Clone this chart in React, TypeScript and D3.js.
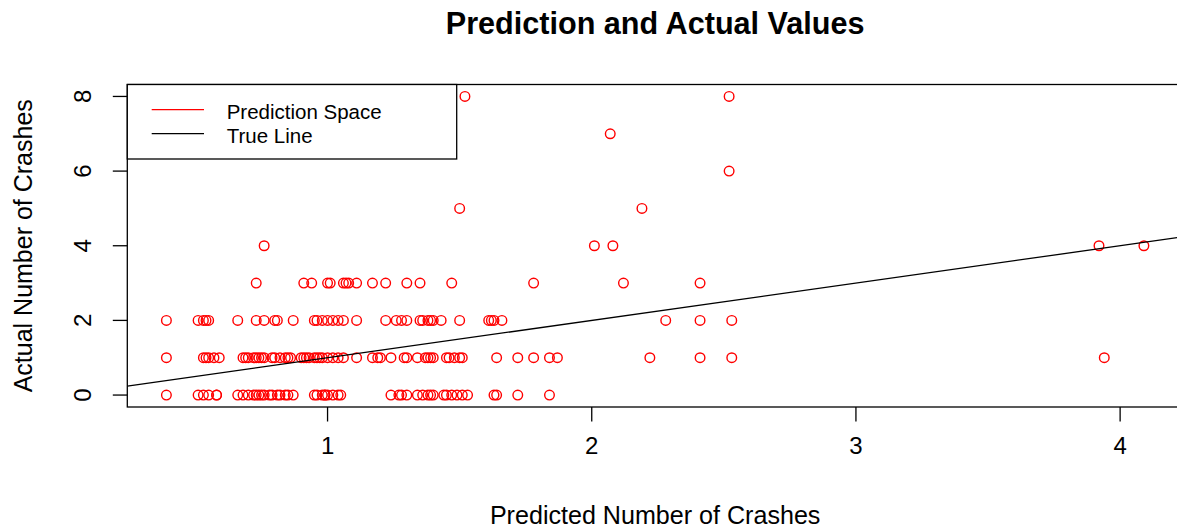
import React from "react";
import * as d3 from "d3";

// Predicted values (x) grouped by actual number of crashes (y)
const predActual0 = [0.39, 0.51, 0.53, 0.55, 0.58, 0.58, 0.66, 0.68, 0.70, 0.72, 0.73, 0.74, 0.75, 0.76, 0.78, 0.79, 0.81, 0.82, 0.84, 0.85, 0.87, 0.95, 0.96, 0.98, 0.99, 0.99, 1.00, 1.02, 1.04, 1.05, 1.24, 1.27, 1.28, 1.30, 1.34, 1.36, 1.38, 1.39, 1.40, 1.44, 1.45, 1.47, 1.49, 1.51, 1.53, 1.63, 1.64, 1.72, 1.84];
const predActual1 = [0.39, 0.53, 0.54, 0.55, 0.57, 0.59, 0.68, 0.69, 0.70, 0.72, 0.73, 0.74, 0.75, 0.76, 0.79, 0.80, 0.82, 0.84, 0.85, 0.86, 0.90, 0.91, 0.92, 0.93, 0.95, 0.96, 0.97, 0.98, 1.00, 1.02, 1.04, 1.06, 1.11, 1.17, 1.19, 1.20, 1.24, 1.29, 1.30, 1.34, 1.37, 1.38, 1.39, 1.40, 1.45, 1.46, 1.48, 1.50, 1.51, 1.64, 1.72, 1.78, 1.84, 1.87, 2.22, 2.41, 2.53, 3.94];
const predActual2 = [0.39, 0.51, 0.53, 0.54, 0.55, 0.66, 0.73, 0.76, 0.80, 0.81, 0.87, 0.95, 0.96, 0.98, 1.00, 1.02, 1.04, 1.06, 1.11, 1.22, 1.26, 1.28, 1.30, 1.35, 1.36, 1.38, 1.39, 1.40, 1.43, 1.50, 1.61, 1.62, 1.63, 1.66, 2.28, 2.41, 2.53];
const predActual3 = [0.73, 0.91, 0.94, 1.00, 1.01, 1.06, 1.07, 1.08, 1.11, 1.17, 1.22, 1.30, 1.35, 1.47, 1.78, 2.12, 2.41];
const predActual4 = [0.76, 2.01, 2.08, 3.92, 4.09];
const predActual5 = [1.50, 2.19];
const predActual6 = [2.52];
const predActual7 = [2.07];
const predActual8 = [1.52, 2.52];

const groups = [predActual0, predActual1, predActual2, predActual3, predActual4, predActual5, predActual6, predActual7, predActual8];

const xTicks = [1, 2, 3, 4];
const yTicks = [0, 2, 4, 6, 8];

const titleText = "Prediction and Actual Values";
const xLabel = "Predicted Number of Crashes";
const yLabel = "Actual Number of Crashes";
const legendLabels = ["Prediction Space", "True Line"];
const legendColors = ["#ff0000", "#000000"];

const W = 1177;
const H = 529;
const plotL = 127.3;
const plotR = 1183;
const plotT = 84.5;
const plotB = 407;
const FONT = "'Liberation Sans', Arial, sans-serif";

export default function App() {
  const points = groups.flatMap((g, y) => g.map((x) => ({ x, y })));
  const xs = points.map((p) => p.x);
  const ys = points.map((p) => p.y);
  const [xmin, xmax] = d3.extent(xs) as [number, number];
  const [ymin, ymax] = d3.extent(ys) as [number, number];
  const xr = xmax - xmin;
  const yr = ymax - ymin;
  const x = d3.scaleLinear().domain([xmin - 0.04 * xr, xmax + 0.04 * xr]).range([plotL, plotR]);
  const y = d3.scaleLinear().domain([ymin - 0.04 * yr, ymax + 0.04 * yr]).range([plotB, plotT]);
  const [d0, d1] = x.domain();
  const lineGen = d3.line<number>().x((v) => x(v)).y((v) => y(v));

  return (
    <svg width={W} height={H} style={{ position: "absolute", left: 0, top: 0, background: "#fff" }}>
      <rect x={0} y={0} width={W} height={H} fill="#fff" />
      <defs>
        <clipPath id="plotClip">
          <rect x={plotL} y={plotT} width={plotR - plotL} height={plotB - plotT} />
        </clipPath>
      </defs>
      <text x={(plotL + plotR) / 2} y={33.5} textAnchor="middle" fontFamily={FONT} fontWeight="bold" fontSize={30.6} fill="#000">
        {titleText}
      </text>
      {/* points */}
      <g clipPath="url(#plotClip)">
        {points.map((p, i) => (
          <circle key={i} cx={x(p.x)} cy={y(p.y)} r={4.8} fill="none" stroke="#ff0000" strokeWidth={1.4} />
        ))}
        <path d={lineGen([d0, d1]) || ""} stroke="#000" strokeWidth={1.3} fill="none" />
      </g>
      {/* box */}
      <rect x={plotL} y={plotT} width={plotR - plotL} height={plotB - plotT} fill="none" stroke="#000" strokeWidth={1.3} />
      {/* x axis */}
      {xTicks.map((t) => (
        <g key={"xt" + t}>
          <line x1={x(t)} x2={x(t)} y1={plotB} y2={plotB + 14.5} stroke="#000" strokeWidth={1.3} />
          <text x={x(t)} y={453.5} textAnchor="middle" fontFamily={FONT} fontSize={24} fill="#000">
            {t}
          </text>
        </g>
      ))}
      <text x={(plotL + plotR) / 2} y={524} textAnchor="middle" fontFamily={FONT} fontSize={25.1} fill="#000">
        {xLabel}
      </text>
      {/* y axis */}
      {yTicks.map((t) => (
        <g key={"yt" + t}>
          <line x1={plotL - 14.5} x2={plotL} y1={y(t)} y2={y(t)} stroke="#000" strokeWidth={1.3} />
          <text transform={`translate(90.7,${y(t)}) rotate(-90)`} textAnchor="middle" fontFamily={FONT} fontSize={24} fill="#000">
            {t}
          </text>
        </g>
      ))}
      <text transform={`translate(32.3,${(plotT + plotB) / 2}) rotate(-90)`} textAnchor="middle" fontFamily={FONT} fontSize={25} fill="#000">
        {yLabel}
      </text>
      {/* legend */}
      <rect x={plotL} y={plotT} width={456.7 - plotL} height={159 - plotT} fill="#fff" stroke="#000" strokeWidth={1.3} />
      {legendLabels.map((lab, i) => (
        <g key={lab}>
          <line x1={151.7} x2={204} y1={109.7 + i * 24} y2={109.7 + i * 24} stroke={legendColors[i]} strokeWidth={1.3} />
          <text x={226.7} y={118.5 + i * 24.5} fontFamily={FONT} fontSize={20.5} fill="#000">
            {lab}
          </text>
        </g>
      ))}
    </svg>
  );
}
